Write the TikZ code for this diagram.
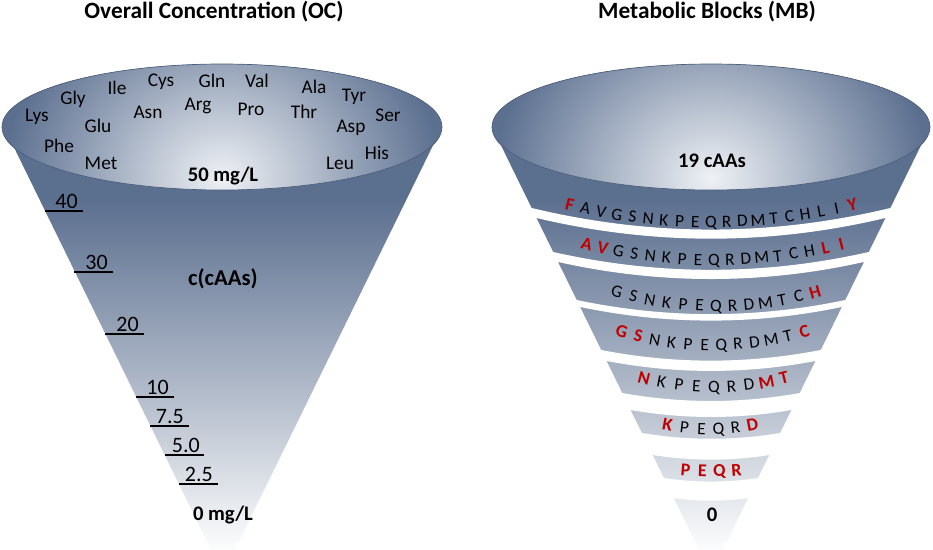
\documentclass[tikz,border=0pt]{standalone}
\usepackage{fontspec}
\setmainfont{Carlito}
\definecolor{conedark}{RGB}{91,111,143}
\definecolor{rimlight}{RGB}{238,241,245}
\definecolor{mbred}{RGB}{192,0,0}
\colorlet{coneA}{conedark!15!white}
\colorlet{coneB}{conedark!45!white}
\colorlet{coneC}{conedark!78!white}
\pgfdeclareverticalshading{conesh}{100bp}{color(0bp)=(white); color(27bp)=(white); color(33bp)=(coneA); color(44.5bp)=(coneB); color(58bp)=(coneC); color(67bp)=(conedark); color(100bp)=(conedark)}
% white gap between two bands of the right funnel
\newcommand{\mbgap}[3]{%
  \pgfmathsetmacro\gHb{0.49*(574-#2)}%
  \pgfmathsetmacro\gSb{\gHb*(0.06+0.00033*\gHb)}%
  \pgfmathsetmacro\gHt{0.49*(574-#3)}%
  \pgfmathsetmacro\gSt{\gHt*(0.06+0.00033*\gHt)}%
  \fill[white] plot[domain=-1.04:1.04, samples=41] ({#1+\x*\gHb},{#2+\gSb*(1-(\x)*(\x))})
     -- plot[domain=1.04:-1.04, samples=41] ({#1+\x*\gHt},{#3+\gSt*(1-(\x)*(\x))}) -- cycle;
}
% letters placed along a curved band
\newcommand{\arcletters}[7]{%
  \foreach \s/\L [count=\i] in {#7} {%
    \pgfmathsetmacro\aDx{(\i-(#2+1)/2)*#6}%
    \pgfmathsetmacro\aHs{((#2-1)/2)*#6}%
    \pgfmathsetmacro\aR{\aDx/\aHs}%
    \pgfmathsetmacro\aY{#4-#5*\aR*\aR}%
    \pgfmathsetmacro\aAng{atan(2*#5*\aR/\aHs)}%
    \node[\s, rotate=\aAng] (#1-\i) at ({#3+\aDx},\aY) {\L};
  }%
}
\begin{document}
\begin{tikzpicture}[x=0.75pt,y=-0.75pt,
  titlelab/.style={font=\fontsize{17.5}{20}\selectfont\bfseries, inner sep=0},
  aalab/.style={font=\fontsize{14.5}{16}\selectfont, inner sep=0},
  boldlab/.style={font=\fontsize{15.5}{18}\selectfont\bfseries, inner sep=0},
  biglab/.style={font=\fontsize{17}{20}\selectfont\bfseries, inner sep=0},
  numlab/.style={font=\fontsize{16.5}{19}\selectfont, inner sep=0, anchor=base east},
  tickline/.style={line width=0.9pt, black},
  rimedge/.style={draw=conedark!85!black, line width=0.5pt},
  conefill/.style={shading=conesh},
  redlet/.style={font=\fontsize{13.5}{15}\selectfont\bfseries, text=mbred, inner sep=0, text height=8.6pt, text depth=0pt},
  blklet/.style={font=\fontsize{13}{15}\selectfont, text=black, inner sep=0, text height=8.3pt, text depth=0pt},
]
\useasboundingbox (0,0) rectangle (933,550);

% ---------------- left funnel ----------------
\shade[conefill] (4,127) -- (442,127) -- (223,574) -- cycle;
\begin{scope}
  \clip (222,127) ellipse [x radius=220, y radius=63];
  \fill[conedark] (222,127) ellipse [x radius=220, y radius=63];
  \shade[inner color=rimlight, outer color=conedark] (222,178) ellipse [x radius=220, y radius=190];
\end{scope}
\draw[rimedge] (222,127) ellipse [x radius=220, y radius=63];

\node[titlelab] (t1) at (214,12) {Overall Concentration (OC)};

\node[aalab] (lys) at (37,117) {Lys};
\node[aalab] (gly) at (73,99) {Gly};
\node[aalab] (ile) at (117,88) {Ile};
\node[aalab] (cys) at (161,82) {Cys};
\node[aalab] (gln) at (212,81) {Gln};
\node[aalab] (val) at (257,81) {Val};
\node[aalab] (ala) at (314,87) {Ala};
\node[aalab] (tyr) at (354,97) {Tyr};
\node[aalab] (ser) at (388,115) {Ser};
\node[aalab] (glu) at (98,126) {Glu};
\node[aalab] (asn) at (148,112) {Asn};
\node[aalab] (arg) at (198,106) {Arg};
\node[aalab] (pro) at (251,109) {Pro};
\node[aalab] (thr) at (304,112) {Thr};
\node[aalab] (asp) at (351,128) {Asp};
\node[aalab] (phe) at (59,146) {Phe};
\node[aalab] (met) at (101,163) {Met};
\node[aalab] (leu) at (340,163) {Leu};
\node[aalab] (his) at (377,153) {His};

\node[boldlab] (top50) at (223,176) {50 mg/L};
\node[biglab] (cc) at (223,279) {c(cAAs)};
\node[boldlab] (zero1) at (223,515) {0 mg/L};

\node[numlab] (n40) at (78,208) {40};
\draw[tickline] (45,211) -- (83,211);
\node[numlab] (n30) at (108,269) {30};
\draw[tickline] (74,272) -- (113,272);
\node[numlab] (n20) at (139,331) {20};
\draw[tickline] (105,334) -- (144,334);
\node[numlab] (n10) at (169,394) {10};
\draw[tickline] (136,397) -- (174,397);
\node[numlab] (n75) at (184,423) {7.5};
\draw[tickline] (150,426) -- (189,426);
\node[numlab] (n50) at (200,452) {5.0};
\draw[tickline] (165,455) -- (204,455);
\node[numlab] (n25) at (213,481) {2.5};
\draw[tickline] (179,484) -- (218,484);

% ---------------- right funnel ----------------
\shade[conefill] (492,127) -- (930,127) -- (711,574) -- cycle;
\mbgap{711}{208}{218}
\mbgap{711}{252}{262}
\mbgap{711}{300}{307}
\mbgap{711}{350}{361}
\mbgap{711}{393}{410}
\mbgap{711}{433}{455}
\mbgap{711}{478}{498}
\begin{scope}
  \clip (711,127) ellipse [x radius=219, y radius=63];
  \fill[conedark] (711,127) ellipse [x radius=219, y radius=63];
  \shade[inner color=rimlight, outer color=conedark] (711,178) ellipse [x radius=219, y radius=190];
\end{scope}
\draw[rimedge] (711,127) ellipse [x radius=219, y radius=63];

\node[titlelab] (t2) at (707,12) {Metabolic Blocks (MB)};
\node[boldlab] (c19) at (712,161) {19 cAAs};

\arcletters{ba}{19}{711}{222}{17}{15.7}{redlet/F,blklet/A,blklet/V,blklet/G,blklet/S,blklet/N,blklet/K,blklet/P,blklet/E,blklet/Q,blklet/R,blklet/D,blklet/M,blklet/T,blklet/C,blklet/H,blklet/L,blklet/I,redlet/Y}
\arcletters{bb}{17}{714}{260}{16}{15.9}{redlet/A,redlet/V,blklet/G,blklet/S,blklet/N,blklet/K,blklet/P,blklet/E,blklet/Q,blklet/R,blklet/D,blklet/M,blklet/T,blklet/C,blklet/H,redlet/L,redlet/I}
\arcletters{bc}{13}{716}{306}{14}{16.5}{blklet/G,blklet/S,blklet/N,blklet/K,blklet/P,blklet/E,blklet/Q,blklet/R,blklet/D,blklet/M,blklet/T,blklet/C,redlet/H}
\arcletters{bd}{12}{713}{345}{13}{16.6}{redlet/G,redlet/S,blklet/N,blklet/K,blklet/P,blklet/E,blklet/Q,blklet/R,blklet/D,blklet/M,blklet/T,redlet/C}
\arcletters{be}{9}{714}{387}{9}{17.5}{redlet/N,blklet/K,blklet/P,blklet/E,blklet/Q,blklet/R,blklet/D,redlet/M,redlet/T}
\arcletters{bf}{6}{710}{429}{4}{17}{redlet/K,blklet/P,blklet/E,blklet/Q,blklet/R,redlet/D}
\arcletters{bg}{4}{711}{471}{1}{17}{redlet/P,redlet/E,redlet/Q,redlet/R}
\node[boldlab] (zero2) at (712,515) {0};
\end{tikzpicture}
\end{document}
